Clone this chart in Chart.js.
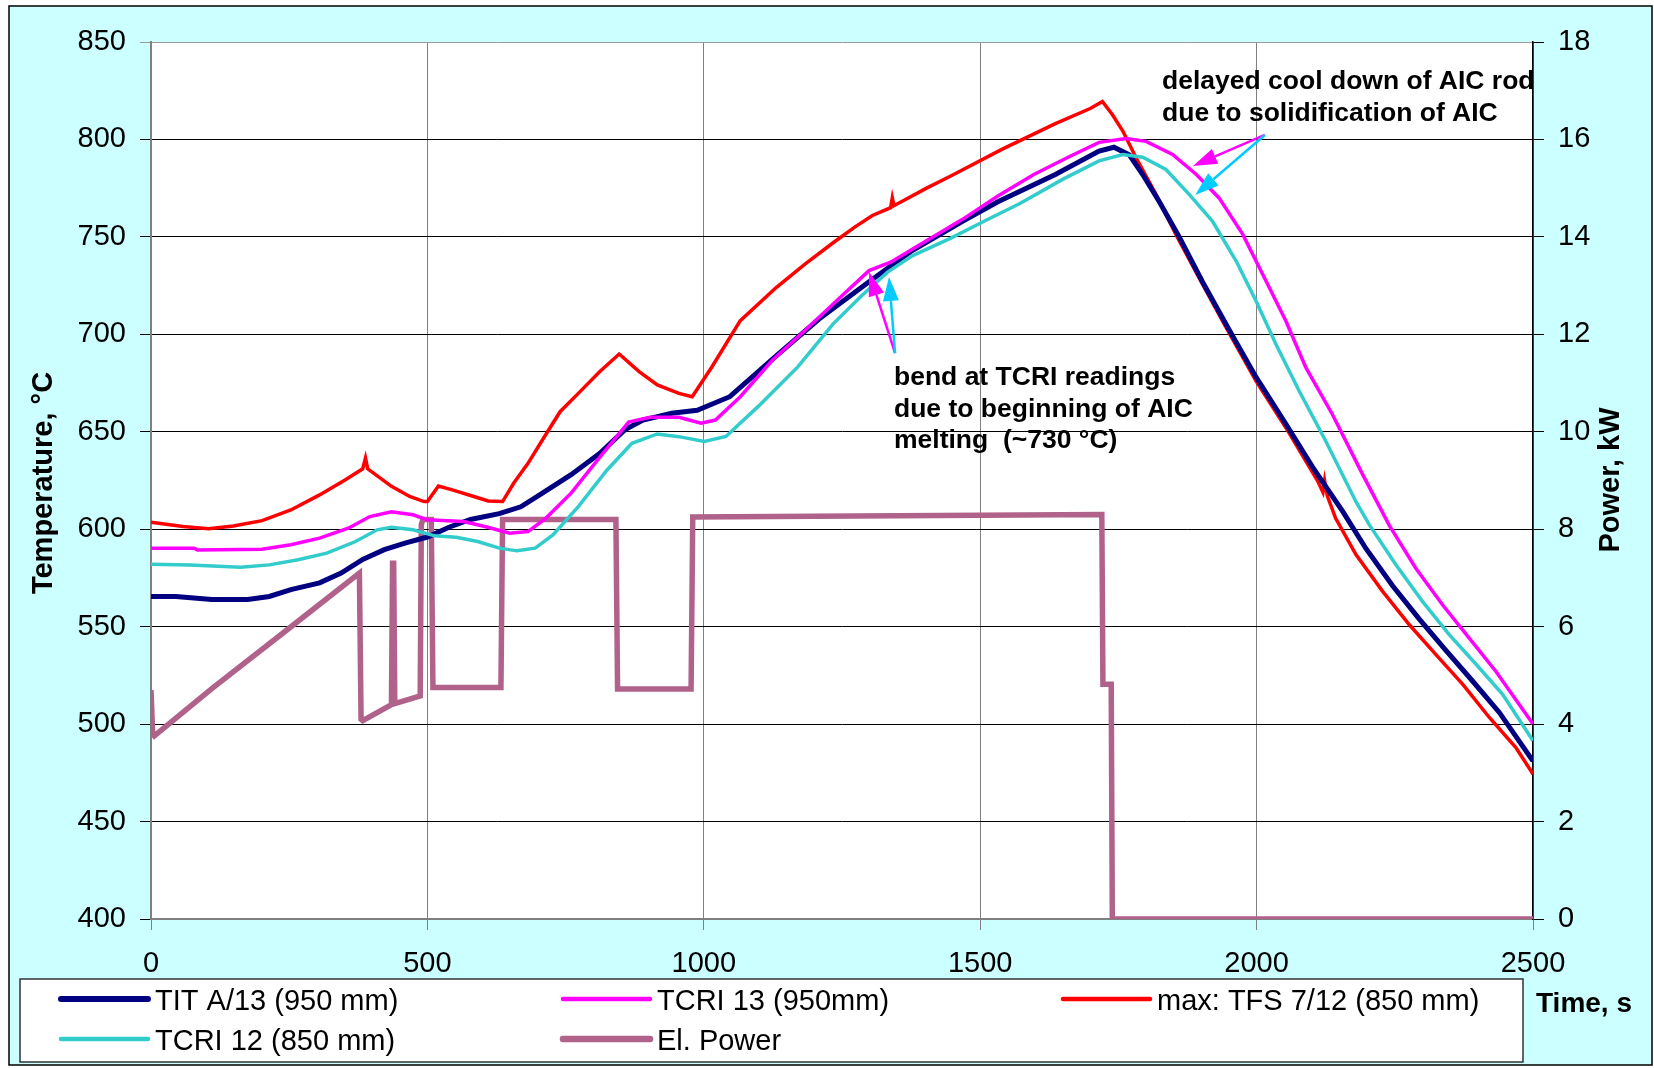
<!DOCTYPE html>
<html lang="en">
<head>
    <meta charset="UTF-8">
    <title>AIC rod test - temperatures and power</title>
    <script src="https://cdn.jsdelivr.net/npm/chart.js@4.4.0/dist/chart.umd.min.js"></script>
    <style>
        body { margin: 0; background: #fff; }
    </style>
</head>
<body>

    <canvas id="recuadro" width="1654" height="1068"></canvas>

    <script>
        // --- data (time in s, temperature in °C, power in kW) ---
        const titTime = [0, 45, 110, 175, 214, 253, 305, 344, 383, 422, 461, 500, 539, 578, 630, 669, 708, 760, 812, 857, 890, 942, 988, 1047, 1131, 1209, 1299, 1377, 1468, 1532, 1636, 1715, 1742, 1770, 1794, 1824, 1860, 1902, 1951, 1999, 2053, 2101, 2156, 2198, 2246, 2294, 2342, 2391, 2439, 2500];
        const titTemp = [565.5, 565.5, 564, 564, 565.5, 569, 572.5, 577.5, 584.5, 589.5, 593, 596, 601, 605, 608, 611.5, 618.5, 628, 639, 651, 656, 659.5, 661, 668, 689, 708, 727, 743, 758, 768, 782, 794, 796, 792, 782, 768, 750, 727, 702, 678, 654, 632, 609, 590, 571, 554, 538, 522, 506, 481];

        const tcri13Time = [0, 78, 84, 201, 253, 305, 357, 396, 435, 474, 500, 565, 604, 649, 682, 714, 760, 812, 864, 903, 955, 995, 1021, 1066, 1124, 1183, 1247, 1299, 1338, 1403, 1468, 1532, 1597, 1660, 1715, 1764, 1800, 1848, 1891, 1932, 1975, 2011, 2053, 2089, 2137, 2192, 2240, 2288, 2337, 2385, 2433, 2500];
        const tcri13Temp = [590.3, 590.3, 589.4, 589.7, 592, 595.4, 600.5, 606.5, 609, 607.4, 604.8, 604, 601.4, 598, 598.8, 605.6, 618.5, 637, 655, 657.4, 657.4, 654.4, 656, 668, 686.7, 702, 719, 732.7, 737, 748, 759, 771, 782, 791, 798.5, 800.5, 799, 792.3, 782, 770, 751.3, 730.8, 706.8, 683, 659, 628, 602, 580, 561, 544, 527, 500];

        const tfsTime = [0, 58, 104, 149, 201, 253, 305, 351, 383, 388, 392, 435, 468, 494, 500, 520, 545, 584, 610, 636, 656, 682, 708, 740, 773, 812, 847, 883, 916, 955, 979, 1014, 1066, 1131, 1183, 1234, 1273, 1305, 1338, 1341, 1344, 1403, 1445, 1540, 1635, 1700, 1721, 1739, 1758, 1782, 1818, 1854, 1896, 1945, 1999, 2053, 2089, 2110, 2120, 2123, 2128, 2143, 2180, 2228, 2276, 2324, 2373, 2421, 2469, 2500];
        const tfsTemp = [603.6, 601.4, 600.2, 601.7, 604.4, 609.9, 617.6, 625.3, 631, 636.5, 631, 622, 616.8, 614.2, 614.2, 622.2, 620.2, 616.8, 614.5, 614.2, 623.6, 633.8, 645.8, 660.3, 669.7, 680.9, 689.9, 680.9, 674, 669.7, 668, 683, 707, 724, 736, 747, 755, 761, 765, 770, 766, 775, 781, 795, 808, 816, 819.5, 812.8, 804.3, 790.6, 771.8, 751.3, 729, 703.4, 676, 652.1, 635, 625, 619, 625, 617, 605.6, 586.9, 568.1, 551.1, 535.8, 520.4, 503.4, 488, 474.4];

        const tcri12Time = [0, 71, 162, 214, 266, 318, 370, 409, 435, 474, 513, 552, 591, 630, 662, 695, 727, 773, 825, 870, 916, 955, 1001, 1040, 1098, 1170, 1234, 1286, 1332, 1377, 1448, 1507, 1571, 1649, 1715, 1758, 1794, 1836, 1878, 1920, 1963, 1999, 2035, 2077, 2125, 2180, 2204, 2252, 2300, 2348, 2397, 2445, 2500];
        const tcri12Temp = [582, 581.7, 580.5, 581.7, 584.3, 587.7, 593.7, 599.7, 601, 599.7, 596.6, 595.9, 593.7, 590.3, 588.9, 590.3, 597.1, 611.6, 630.4, 644.1, 648.9, 647.5, 645, 647.6, 662.9, 683.3, 705.4, 719.9, 731.8, 740.3, 749.5, 758, 767, 779.5, 789, 792.3, 790.9, 784.6, 771.8, 758.1, 737.6, 717.1, 694.9, 670.9, 645.3, 614, 602.2, 581.8, 563, 546, 530.7, 515.3, 491.5];

        const powerTime = [0, 3, 6, 110, 240, 377, 380, 383, 435, 437, 439, 441, 487, 489, 492, 507, 510, 633, 636, 841, 844, 977, 980, 1720, 1722, 1737, 1739, 2500];
        const powerKW = [4.7, 3.8, 3.76, 4.73, 5.88, 7.1, 4.1, 4.07, 4.4, 7.3, 7.3, 4.42, 4.58, 8.1, 8.2, 8.2, 4.75, 4.75, 8.2, 8.2, 4.72, 4.72, 8.25, 8.3, 4.82, 4.82, 0, 0];

        const seriesLabels = ['TIT A/13 (950 mm)', 'TCRI 13 (950mm)', 'max: TFS 7/12 (850 mm)', 'TCRI 12 (850 mm)', 'El. Power'];
        const xTicks = [0, 500, 1000, 1500, 2000, 2500];

        // annotation texts and arrows, in data coordinates (time, °C)
        const noteCool = ['delayed cool down of AIC rod', 'due to solidification of AIC'];
        const noteBend = ['bend at TCRI readings', 'due to beginning of AIC', 'melting  (~730 °C)'];
        const arrows = [
            { from: [2015, 802.3], to: [1885, 786.4], color: '#FF00FF' },
            { from: [2015, 802.3], to: [1889, 771.5], color: '#00CCFF' },
            { from: [1346, 690.4], to: [1299, 732], color: '#FF00FF' },
            { from: [1346, 690.4], to: [1335, 729.4], color: '#00CCFF' }
        ];

        function pares(xs, ys) {
            return xs.map((x, i) => ({ x: x, y: ys[i] }));
        }

        const fuente = "'Liberation Sans', Arial, sans-serif";
        const tickFont = { family: fuente, size: 29 };

        // fondo celeste, marco y area blanca
        const fondo = {
            id: 'fondo',
            beforeDraw(chart) {
                const ctx = chart.ctx;
                const a = chart.chartArea;
                ctx.save();
                ctx.fillStyle = '#fff';
                ctx.fillRect(0, 0, chart.width, chart.height);
                ctx.fillStyle = '#CCFFFF';
                ctx.fillRect(9, 6, 1643, 1059);
                ctx.strokeStyle = '#000';
                ctx.lineWidth = 1.5;
                ctx.strokeRect(9, 6, 1643, 1059);
                ctx.fillStyle = '#fff';
                ctx.fillRect(a.left, a.top, a.width, a.height);
                ctx.restore();
            }
        };

        function flecha(ctx, x1, y1, x2, y2, color) {
            const ang = Math.atan2(y2 - y1, x2 - x1);
            const largo = 24, ancho = 8;
            const bx = x2 - largo * Math.cos(ang), by = y2 - largo * Math.sin(ang);
            ctx.strokeStyle = color;
            ctx.fillStyle = color;
            ctx.lineWidth = 2.5;
            ctx.beginPath();
            ctx.moveTo(x1, y1);
            ctx.lineTo(bx, by);
            ctx.stroke();
            ctx.beginPath();
            ctx.moveTo(x2, y2);
            ctx.lineTo(bx + ancho * Math.sin(ang), by - ancho * Math.cos(ang));
            ctx.lineTo(bx - ancho * Math.sin(ang), by + ancho * Math.cos(ang));
            ctx.closePath();
            ctx.fill();
        }

        // titulos de ejes, leyenda, notas y flechas
        const extras = {
            id: 'extras',
            afterDraw(chart) {
                const ctx = chart.ctx;
                const sx = chart.scales.x, sy = chart.scales.y;
                ctx.save();

                // axis titles
                ctx.fillStyle = '#000';
                ctx.font = 'bold 29px ' + fuente;
                ctx.textAlign = 'center';
                ctx.textBaseline = 'middle';
                ctx.save();
                ctx.translate(44, 483);
                ctx.rotate(-Math.PI / 2);
                ctx.fillText('Temperature, °C', 0, 0);
                ctx.restore();
                ctx.save();
                ctx.translate(1611, 480);
                ctx.rotate(-Math.PI / 2);
                ctx.fillText('Power, kW', 0, 0);
                ctx.restore();
                ctx.font = 'bold 28px ' + fuente;
                ctx.textBaseline = 'alphabetic';
                ctx.fillText('Time, s', 1584, 1012);

                // legend box
                ctx.fillStyle = '#fff';
                ctx.fillRect(20, 979, 1503, 83);
                ctx.strokeStyle = '#333';
                ctx.lineWidth = 1.5;
                ctx.strokeRect(20, 979, 1503, 83);
                const colX = [61, 563, 1063];
                const rowY = [999, 1039];
                const slots = [[0, 0], [1, 0], [2, 0], [0, 1], [1, 1]];
                ctx.font = '29px ' + fuente;
                ctx.textAlign = 'left';
                chart.data.datasets.forEach((ds, i) => {
                    const x = colX[slots[i][0]], y = rowY[slots[i][1]];
                    ctx.strokeStyle = ds.borderColor;
                    ctx.lineWidth = ds.borderWidth + 1;
                    ctx.lineCap = 'round';
                    ctx.beginPath();
                    ctx.moveTo(x, y);
                    ctx.lineTo(x + 87, y);
                    ctx.stroke();
                    ctx.fillStyle = '#000';
                    ctx.fillText(ds.label, x + 94, y + 11);
                });
                ctx.lineCap = 'butt';

                // notes
                ctx.font = 'bold 26.5px ' + fuente;
                ctx.fillStyle = '#000';
                noteCool.forEach((t, i) => {
                    ctx.fillText(t, sx.getPixelForValue(1829), sy.getPixelForValue(825.9) + i * 32);
                });
                noteBend.forEach((t, i) => {
                    ctx.fillText(t, sx.getPixelForValue(1344), sy.getPixelForValue(674) + i * 31.5);
                });

                arrows.forEach(a => {
                    flecha(ctx,
                        sx.getPixelForValue(a.from[0]), sy.getPixelForValue(a.from[1]),
                        sx.getPixelForValue(a.to[0]), sy.getPixelForValue(a.to[1]), a.color);
                });

                ctx.restore();
            }
        };

        const ctx = document.getElementById('recuadro').getContext('2d');

        const myChart = new Chart(ctx, {
            type: 'line',
            data: {
                datasets: [
                    { label: seriesLabels[0], data: pares(titTime, titTemp), borderColor: '#000080', borderWidth: 5, yAxisID: 'y', order: 2 },
                    { label: seriesLabels[1], data: pares(tcri13Time, tcri13Temp), borderColor: '#FF00FF', borderWidth: 3.5, yAxisID: 'y', order: 1 },
                    { label: seriesLabels[2], data: pares(tfsTime, tfsTemp), borderColor: '#FF0000', borderWidth: 3.5, yAxisID: 'y', order: 3 },
                    { label: seriesLabels[3], data: pares(tcri12Time, tcri12Temp), borderColor: '#33CCCC', borderWidth: 3.5, yAxisID: 'y', order: 0 },
                    { label: seriesLabels[4], data: pares(powerTime, powerKW), borderColor: '#B0628A', borderWidth: 5.5, yAxisID: 'y2', order: 5 }
                ]
            },
            options: {
                responsive: false,
                animation: false,
                devicePixelRatio: 1,
                layout: { padding: { top: 42, left: 0, right: 0, bottom: 0 } },
                plugins: { legend: { display: false }, tooltip: { enabled: false } },
                elements: { point: { radius: 0 }, line: { tension: 0, fill: false } },
                scales: {
                    x: {
                        type: 'linear', min: 0, max: 2500,
                        afterBuildTicks: s => { s.ticks = xTicks.map(v => ({ value: v })); },
                        ticks: { color: '#000', font: tickFont, padding: 17, maxRotation: 0, callback: v => String(v) },
                        grid: { color: '#808080', lineWidth: 1, tickLength: 11 },
                        border: { color: '#808080', width: 2 },
                        afterFit: s => { s.height = 149; }
                    },
                    y: {
                        position: 'left', min: 400, max: 850,
                        ticks: { stepSize: 50, color: '#000', font: tickFont, padding: 14 },
                        grid: { color: c => (c.tick && c.tick.value === 850) ? '#999' : '#000', lineWidth: 1, tickLength: 11 },
                        border: { color: '#808080', width: 2 },
                        afterFit: s => { s.width = 151; }
                    },
                    y2: {
                        position: 'right', min: 0, max: 18,
                        ticks: { stepSize: 2, color: '#000', font: tickFont, padding: 14 },
                        grid: { drawOnChartArea: false, color: '#000', tickLength: 11 },
                        border: { color: '#000', width: 1.5 },
                        afterFit: s => { s.width = 121; }
                    }
                }
            },
            plugins: [fondo, extras]
        });
    </script>

</body>
</html>
